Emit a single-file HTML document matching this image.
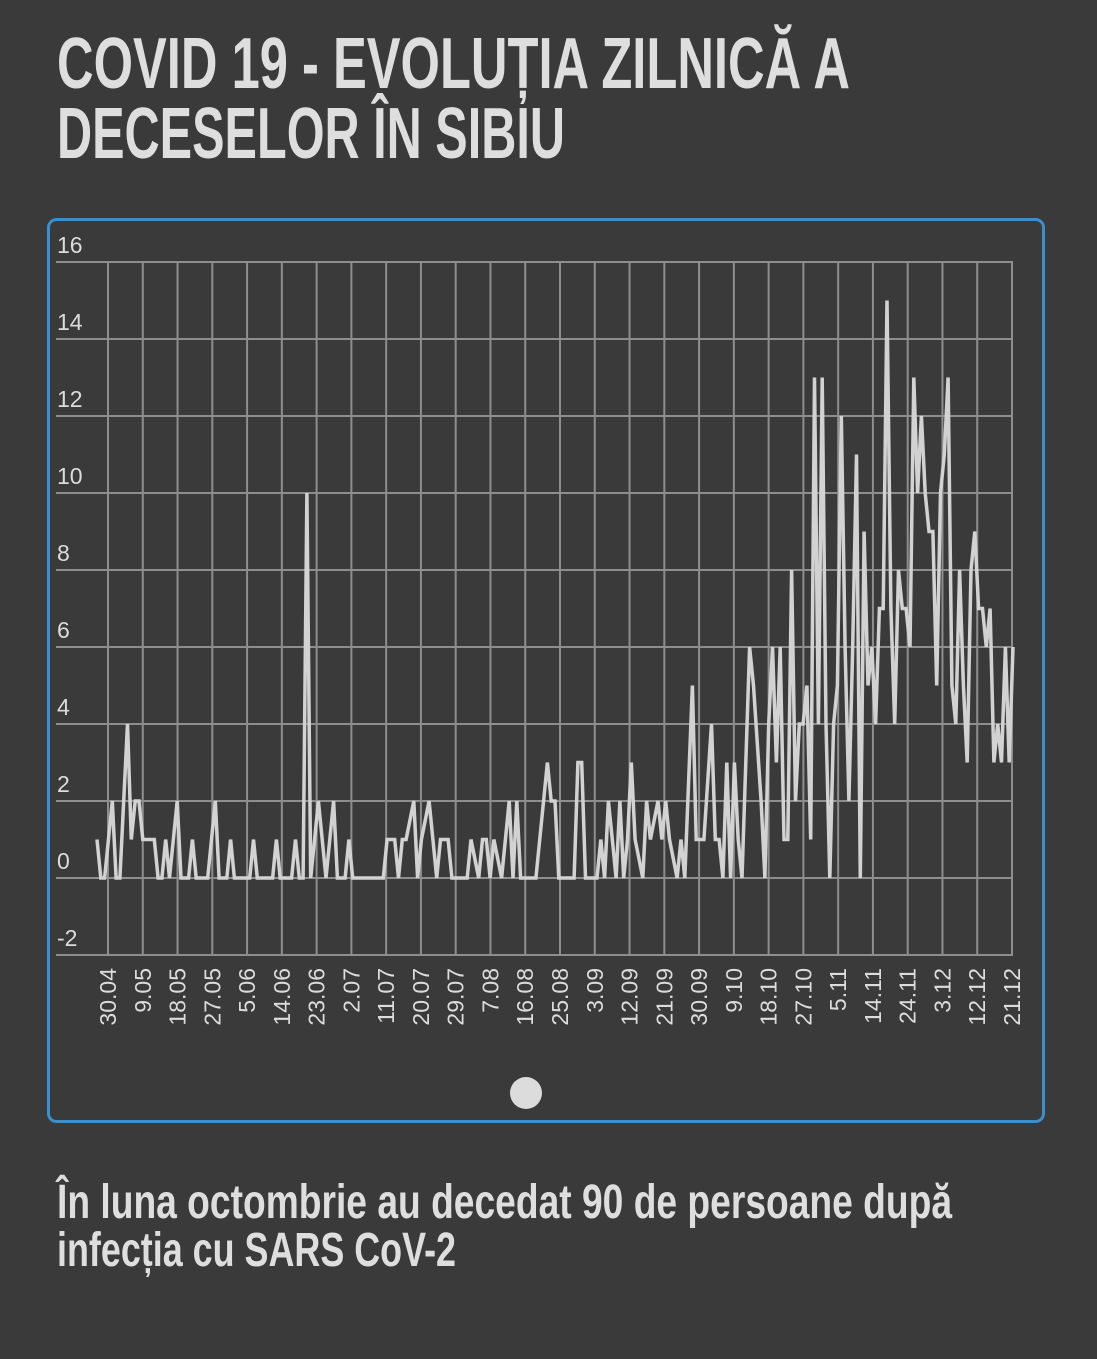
<!DOCTYPE html>
<html><head><meta charset="utf-8"><style>
html,body{margin:0;padding:0;background:#3a3a3a;}
svg{display:block;font-family:"Liberation Sans",sans-serif;}
</style></head><body>
<svg id="chart" width="1097" height="1359" viewBox="0 0 1097 1359">
<rect x="0" y="0" width="1097" height="1359" fill="#3a3a3a"/>
<text x="57" y="88" font-size="72" font-weight="bold" fill="#dedede" textLength="793" lengthAdjust="spacingAndGlyphs">COVID 19 - EVOLUȚIA ZILNICĂ A</text>
<text x="57" y="158" font-size="72" font-weight="bold" fill="#dedede" textLength="508" lengthAdjust="spacingAndGlyphs">DECESELOR ÎN SIBIU</text>
<rect x="48.5" y="219.5" width="995" height="902" rx="8" fill="none" stroke="#3b8fcc" stroke-width="3"/>
<g id="grid"></g>
<g id="yaxis"></g>
<g id="xaxis"></g>
<path id="line" fill="none" stroke="#d2d2d2" stroke-width="3.5" stroke-linejoin="miter"/>
<circle cx="526" cy="1093" r="16" fill="#dcdcdc"/>
<text x="57" y="1218" font-size="48" font-weight="bold" fill="#dedede" textLength="895" lengthAdjust="spacingAndGlyphs">În luna octombrie au decedat 90 de persoane după</text>
<text x="57" y="1266" font-size="48" font-weight="bold" fill="#dedede" textLength="399" lengthAdjust="spacingAndGlyphs">infecția cu SARS CoV-2</text>
</svg>
<script>
const yTicks = [-2,0,2,4,6,8,10,12,14,16];
const xLabels = ["30.04","9.05","18.05","27.05","5.06","14.06","23.06","2.07","11.07","20.07","29.07","7.08","16.08","25.08","3.09","12.09","21.09","30.09","9.10","18.10","27.10","5.11","14.11","24.11","3.12","12.12","21.12"];
const days = [0,1,2,4,5,6,8,9,10,11,12,15,16,17,18,19,21,22,24,25,26,29,31,32,34,35,36,40,41,42,46,47,48,51,52,53,54,55,56,57,58,60,61,62,63,65,66,67,75,76,78,79,80,81,83,84,85,87,88,89,90,92,93,97,98,100,101,102,103,104,106,108,109,110,111,115,118,119,120,121,125,126,127,128,131,132,133,134,135,136,137,138,139,140,141,143,144,145,147,148,149,150,152,153,154,156,157,159,161,162,163,164,165,166,167,168,169,171,172,174,175,176,177,178,179,180,181,182,183,184,185,186,187,188,189,190,191,192,193,194,195,196,197,198,199,200,201,202,203,204,205,206,207,208,209,210,211,212,213,214,215,216,217,218,219,220,221,222,223,224,225,226,227,228,229,230,231,232,233,234,235,236,237,238,239,240];
const deaths = [1,0,0,2,0,0,4,1,2,2,1,1,0,0,1,0,2,0,0,1,0,0,2,0,0,1,0,0,1,0,0,1,0,0,1,0,0,10,0,1,2,0,1,2,0,0,1,0,0,1,1,0,1,1,2,0,1,2,1,0,1,1,0,0,1,0,1,1,0,1,0,2,0,2,0,0,3,2,2,0,0,3,3,0,0,1,0,2,1,0,2,0,1,3,1,0,2,1,2,1,2,1,0,1,0,5,1,1,4,1,1,0,3,0,3,1,0,6,5,2,0,4,6,3,6,1,1,8,2,4,4,5,1,13,4,13,4,0,4,5,12,6,2,6,11,0,9,5,6,4,7,7,15,7,4,8,7,7,6,13,10,12,10,9,9,5,10,11,13,5,4,8,5,3,8,9,7,7,6,7,3,4,3,6,3,6];

const svgNS = "http://www.w3.org/2000/svg";
const X0 = 56, X1 = 1013, Y0 = 878, UNIT = 38.5;
const yScale = v => Y0 - v * UNIT;
const dayScale = d => 97 + d * (1013 - 97) / 240;
const labelScale = i => 108 + i * (1012 - 108) / (xLabels.length - 1);

const grid = document.getElementById('grid');
const yaxis = document.getElementById('yaxis');
const xaxis = document.getElementById('xaxis');

yTicks.forEach(t => {
  const l = document.createElementNS(svgNS, 'line');
  l.setAttribute('x1', X0); l.setAttribute('x2', X1);
  l.setAttribute('y1', yScale(t)); l.setAttribute('y2', yScale(t));
  l.setAttribute('stroke', '#8e8e8e'); l.setAttribute('stroke-width', '2');
  
  
  grid.appendChild(l);
  const tx = document.createElementNS(svgNS, 'text');
  tx.setAttribute('x', 57); tx.setAttribute('y', yScale(t) - 9);
  tx.setAttribute('font-size', '23'); tx.setAttribute('fill', '#dcdcdc');
  tx.textContent = String(t);
  
  
  yaxis.appendChild(tx);
});

xLabels.forEach((lab, i) => {
  const x = labelScale(i);
  const l = document.createElementNS(svgNS, 'line');
  l.setAttribute('x1', x); l.setAttribute('x2', x);
  l.setAttribute('y1', yScale(16)); l.setAttribute('y2', yScale(-2));
  l.setAttribute('stroke', '#8e8e8e'); l.setAttribute('stroke-width', '2');
  
  
  grid.appendChild(l);
  const tx = document.createElementNS(svgNS, 'text');
  tx.setAttribute('transform', 'translate(' + (x + 8) + ',968) rotate(-90)');
  tx.setAttribute('text-anchor', 'end');
  tx.setAttribute('font-size', '23'); tx.setAttribute('fill', '#dcdcdc');
  tx.textContent = lab;
  
  
  xaxis.appendChild(tx);
});

let d = '';
days.forEach((dy, i) => {
  d += (i ? 'L' : 'M') + dayScale(dy).toFixed(1) + ',' + yScale(deaths[i]).toFixed(1);
});
document.getElementById('line').setAttribute('d', d);
</script>
</body></html>
